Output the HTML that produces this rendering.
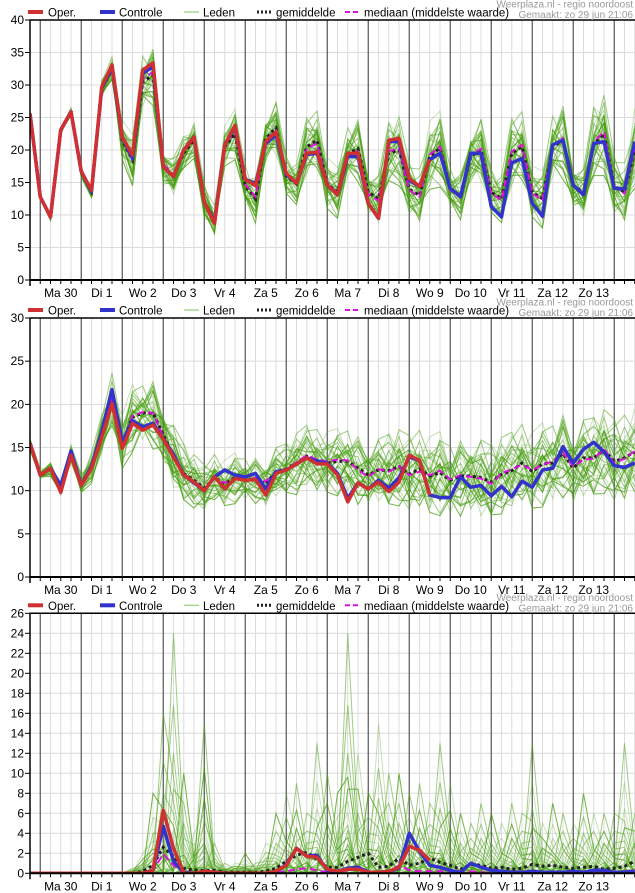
<!DOCTYPE html>
<html><head><meta charset="utf-8">
<style>
html,body{margin:0;padding:0;background:#fff;}
svg{display:block;font-family:"Liberation Sans",sans-serif;}
</style></head>
<body>
<svg id="chart" width="635" height="893" viewBox="0 0 635 893" xmlns="http://www.w3.org/2000/svg"></svg>
<script>
// ---------- data ----------
const dayLabels = ["Ma 30","Di 1","Wo 2","Do 3","Vr 4","Za 5","Zo 6","Ma 7","Di 8","Wo 9","Do 10","Vr 11","Za 12","Zo 13"];
const legendLabels = ["Oper.","Controle","Leden","gemiddelde","mediaan (middelste waarde)"];
const ticks1 = [0,5,10,15,20,25,30,35,40];
const ticks2 = [0,5,10,15,20,25,30];
const ticks3 = [0,2,4,6,8,10,12,14,16,18,20,22,24,26];

const oper1 = [25.6,12.8,9.7,23.1,25.9,16.7,13.8,29.7,33.1,22,19.2,32.3,33.4,17.4,15.9,20,22,12,8.7,20.8,23.8,15.5,14.5,21.3,22.8,16.4,14.9,19.5,19.7,14.6,13.1,19.5,19.5,11.8,9.5,21.5,21.8,15.6,14.4,18.5];
const ctrl1 = [25.6,12.8,9.7,23.1,25.9,16.7,13.6,29.5,32.8,22,18.7,31.8,32.8,17.4,15.9,20,22,12,8.9,20.8,23.6,15.5,14.8,21,22.3,16.2,14.9,19.3,19.5,14.6,13.1,19,19,11.8,9.5,21.3,21.3,15.3,14.4,18.5,19.5,14.1,12.8,19.5,19.5,11.3,9.7,18,18.7,11.8,9.8,20.8,21.5,14.6,13.1,21,21.3,14.1,14,21.3];
const mean1 = [25.5,12.8,9.7,23,25.8,16.5,13.6,29.4,32.5,21.5,18.5,30.5,31.5,17.5,16,19.5,21.5,12,9.2,20.5,22.5,14.5,12.5,21.8,23.4,16,14.8,20.5,21.5,14.8,13.5,19.5,20.2,13.5,12.5,19.5,20,14,13,19,20.3,14,13,19,20,13.5,12.5,19.5,20.5,13.5,12.5,20.5,21.5,14.5,13.5,21,22.5,14.5,13.5,20];
const median1 = [25.5,12.8,9.7,23,25.8,16.6,13.7,29.5,32.8,21.6,18.7,31,32,17.8,16.2,19.8,21.8,12,9.3,20.8,22.8,14.7,12.8,21.5,23,16.1,14.9,20.2,21,14.9,13.3,19.2,19.8,13.2,12.2,19.8,20.3,13.8,12.8,19.3,20.5,13.8,12.7,19.2,20.2,13.3,12.3,19.8,20.8,13.3,12.3,20.8,21.8,14.3,13.3,21.3,22.8,14.3,13.3,20.3];
const spread1 = [0.5,0.5,0.6,0.7,0.8,0.9,1,1.5,2,3.5,4,5,5,4,3.5,3,3,3,2.5,3.5,4,4,4,5,5,3.5,3.5,5,5,4.5,4,5,5.5,4.5,4.5,5.5,6,4.5,4.5,6,6,4,4,5.5,6,4,4,6,6,4.5,4.5,6,6.5,4.5,4.5,6.5,7,5,5,7];

const oper2 = [15.5,11.8,12.6,9.8,14.1,10.6,12.6,16.2,20.1,14.9,17.8,17,17.6,16,13.9,11.8,11,10,11.6,10.2,11.4,11.2,11.3,9.5,12,12.4,13.1,13.8,13.1,13.1,11.8,8.7,10.9,10.2,11,9.9,11,14.1,13.5,9.5];
const ctrl2 = [15.5,11.8,12.6,10.6,14.6,10.6,12.8,16.8,21.7,15.6,18.1,17.4,17.8,16,14.2,11.8,10.9,10,11.6,12.4,11.8,11.6,12,10.2,12.2,12.4,13.1,13.8,13.4,13.2,12,9.1,10.9,10.2,11.2,10.3,11.5,13.9,13.5,9.5,9.2,9.2,11.6,10.4,10.6,9.4,10.5,9.3,11.1,10.4,12.4,12.6,15.1,13.2,14.8,15.6,14.5,12.9,12.7,13.2];
const mean2 = [15.4,11.9,12.5,10.2,14.2,10.8,12.7,16.5,20.5,15.5,18.5,19,19,16.5,14,12,11.2,10.3,11.5,10.8,11.5,11.3,11.3,10.8,12.2,12.5,13.2,14,13.5,13.2,13.4,13.4,12.6,11.8,12.4,12.3,12.8,11.9,12.5,11.7,12.1,11.2,11.7,11.7,11.5,11,11.9,12.3,13.2,12.2,13.1,13.2,14.3,12.6,13.8,13.8,14.7,13.4,13.8,14.5];
const median2 = [15.4,11.9,12.5,10.1,14.2,10.8,12.7,16.6,20.6,15.3,18.7,19.1,19,16.3,13.9,11.9,11.1,10.2,11.4,10.9,11.4,11.2,11.5,11.1,12,12.4,13.3,14.1,13.6,13.4,13.6,13.5,12.4,11.6,12.5,12.2,12.8,11.8,12.2,11.8,12.3,11.3,11.8,11.6,11.4,10.8,12,12.5,13,12.4,13,13.4,14.4,12.8,13.6,13.7,14.8,13.2,13.7,14.6];
const spread2 = [0.7,0.8,0.9,1,1.3,1.3,2,2.5,3.5,3.5,4,4,4.5,4.5,4.5,4,3.5,3,3,3,3,3,3,3.5,3.5,3.5,4,4,4,4,4,4.5,4.5,4.5,4.5,5,5,5,5,5,5,5,5,5.5,5.5,5,5,5,5,5,5,5.5,5.5,5.5,5.5,5.5,5.5,5.5,5.5,5.5];

const oper3 = [0,0,0,0,0,0,0,0,0,0,0,0,0.3,6.3,2.5,0,0,0.2,0.1,0,0,0,0,0,0.2,0.8,2.5,1.7,1.6,0.4,0.2,0.4,0.4,0.1,0.1,0.2,0.6,2.7,2.3,1.3];
const ctrl3 = [0,0,0,0,0,0,0,0,0,0,0,0,0.3,4.7,1.2,0.1,0,0.1,0.1,0,0,0,0,0,0.1,0.9,2.5,1.7,1.8,0.3,0.2,0.5,0.6,0.1,0.1,0.2,0.5,4.0,2.2,0.8,0.6,0.3,0.1,1.0,0.6,0.3,0.2,0.1,0.1,0.2,0.1,0.1,0.1,0.2,0.1,0.3,0.3,0.1,0.1,0.2];
const mean3 = [0,0,0,0,0,0,0,0,0,0,0,0.2,0.8,2.6,1.7,0.5,0.3,0.3,0.3,0.1,0.1,0.1,0.1,0.2,0.5,1.2,1.8,2.1,1.4,0.6,0.6,1.2,1.6,2.0,0.6,0.7,1.5,0.8,1.0,1.5,1.1,0.8,0.4,0.9,0.8,0.5,0.6,0.4,0.5,0.9,0.7,0.8,0.6,0.5,0.6,0.7,0.4,0.5,0.7,1.2];
const median3 = [0,0,0,0,0,0,0,0,0,0,0,0,0.3,1.9,0.8,0,0,0,0,0,0,0,0,0,0.1,0.2,0.4,0.5,0.3,0.1,0.1,0.3,0.7,0.2,0.1,0.2,0.8,0.3,0.2,0.2,0.2,0.1,0,0.2,0.1,0,0.1,0,0.1,0.2,0.1,0.1,0,0.1,0.1,0.2,0.1,0.1,0.2,0.3];
const max3 = [0,0,0,0,0,0,0,0,0,0,0.5,2,8,16,24,10,4,15,3,1,1,2,1,3,6,8,9,6,13,10,8,24,12,8,15,10,10,8,9,7,13,9,6,5,7,6,5,7,6,13,5,7,6,5,8,6,6,6,13,6];

// ---------- drawing ----------
const NS = "http://www.w3.org/2000/svg";
const svg = document.getElementById("chart");
const X0 = 30, DX = 10.25, XR = 635, NM = 50;
function xs(i){ return X0 + DX*i; }
function mk(tag, attrs, parent){
  const e = document.createElementNS(NS, tag);
  for (const k in attrs) e.setAttribute(k, attrs[k]);
  (parent||svg).appendChild(e);
  return e;
}
const F = [-1,0.9,-0.6,0.3,-0.2,0.75,-0.85,0.1,-0.4,0.55,-0.95,0.65,-0.1,0.45,-0.7,0.2,-0.3,0.85,-0.5,0.0,0.95,-0.15,0.35,-0.8,0.6,-0.45,0.15,-0.65,0.5,-0.25];
const P = [1,0,0.7,0.05,0,0.5,0.02,0.4,0,0.3,0.12,0,0.25,0.08,0.2,0,0.15,0.04,0,0.1,0.06,0,0.03,0.01,0,0.35,0,0.18,0.02,0];

function panel(cfg){
  const g = mk("g", {}, svg);
  
  
  const top = cfg.top, bot = cfg.bot, vmax = cfg.vmax;
  const ys = v => bot - (bot-top)*v/vmax;
  const clipId = "clip"+cfg.name;
  const cp = mk("clipPath", {id:clipId}, g);
  mk("rect", {x:X0, y:top, width:XR-X0, height:bot-top}, cp);
  for (let i=1;i<60;i++){
    const isDay = (i-1)%4===0;
    if (!isDay) mk("line",{x1:xs(i),x2:xs(i),y1:top,y2:bot,stroke:"#dcdcdc","stroke-width":1},g);
  }
  cfg.ticks.forEach(t=>{
    if (t>0 && t<vmax) mk("line",{x1:X0,x2:XR,y1:ys(t),y2:ys(t),stroke:"#dcdcdc","stroke-width":1},g);
  });
  for (let k=0;k<15;k++){
    const x = xs(1+4*k);
    if (x<XR) {
      const l = mk("line",{x1:x,x2:x,y1:top,y2:bot,stroke:"#555","stroke-width":1.2},g);
      
      
    }
  }
  const dg = mk("g",{"clip-path":"url(#"+clipId+")"},g);
  function path(arr){ return arr.map((v,i)=>(i?"L":"M")+xs(i).toFixed(2)+","+ys(v).toFixed(2)).join(""); }
  for (let j=0;j<NM;j++){
    const vals = [];
    for (let i=0;i<60;i++){
      let v;
      if (cfg.precip){ v = cfg.max[i]*P[(j*11+i*7)%30]; }
      else { v = cfg.mean[i] + cfg.spread[i]*(0.55*F[j%30] + 0.45*F[(j*7+i*3)%30]); }
      vals.push(v);
    }
    const p = mk("path",{d:path(vals),fill:"none",stroke:(j%3===0?"rgba(60,150,0,0.45)":"rgba(80,165,30,0.32)"),"stroke-width":1},dg);
    
    
  }
  const pm = mk("path",{d:path(cfg.mean),fill:"none",stroke:"#222","stroke-width":3,"stroke-dasharray":"3,3"},dg);
  
  
  const pmed = mk("path",{d:path(cfg.median),fill:"none",stroke:"#e010e0","stroke-width":2,"stroke-dasharray":"7,4"},dg);
  
  
  const pc = mk("path",{d:path(cfg.ctrl),fill:"none",stroke:"#3333cc","stroke-width":3.5,"stroke-linejoin":"round"},dg);
  
  
  const po = mk("path",{d:path(cfg.oper),fill:"none",stroke:"#d03030","stroke-width":3.5,"stroke-linejoin":"round"},dg);
  
  
  mk("line",{x1:X0-0.5,x2:XR,y1:top,y2:top,stroke:"#000","stroke-width":1.5},g);
  const ya = mk("line",{x1:X0,x2:X0,y1:top,y2:bot+6,stroke:"#000","stroke-width":1.5},g);
  
  
  const xa = mk("line",{x1:X0,x2:XR,y1:bot,y2:bot,stroke:"#000","stroke-width":2},g);
  
  
  for (let i=1;i<60;i++) mk("line",{x1:xs(i),x2:xs(i),y1:bot,y2:bot+4,stroke:"#000","stroke-width":1},g);
  cfg.ticks.forEach(t=>{
    mk("line",{x1:X0-5,x2:X0,y1:ys(t),y2:ys(t),stroke:"#000","stroke-width":1},g);
    const tx = mk("text",{x:X0-6,y:ys(t)+4,"text-anchor":"end","font-size":12,fill:"#000"},g);
    tx.textContent = t;
    
    
  });
  dayLabels.forEach((lab,k)=>{
    const tx = mk("text",{x:xs(3+4*k),y:bot+17,"text-anchor":"middle","font-size":12,fill:"#000"},g);
    tx.textContent = lab;
    
    
  });
  const ly = top - 8;
  const lg = mk("g",{},g);
  
  
  const items = [
    {x:28, tx:48, s:{stroke:"#d03030","stroke-width":4}},
    {x:100, tx:119, s:{stroke:"#3333cc","stroke-width":4}},
    {x:184, tx:203, s:{stroke:"#a8d890","stroke-width":1.5}},
    {x:257, tx:276, s:{stroke:"#222","stroke-width":3,"stroke-dasharray":"2,2"}},
    {x:345, tx:364, s:{stroke:"#e010e0","stroke-width":2,"stroke-dasharray":"5,3"}}
  ];
  items.forEach((it,k)=>{
    const a = Object.assign({x1:it.x,x2:it.x+15,y1:ly,y2:ly},it.s);
    mk("line",a,lg);
    const t = mk("text",{x:it.tx,y:ly+4.5,"font-size":11.5,fill:"#000"},lg);
    t.textContent = legendLabels[k];
    
    
  });
  const c1 = mk("text",{x:633,y:top-12.5,"text-anchor":"end","font-size":10,fill:"#999"},g);
  c1.textContent = "Weerplaza.nl - regio noordoost";
  
  
  const c2 = mk("text",{x:633,y:top-2,"text-anchor":"end","font-size":10,fill:"#999"},g);
  c2.textContent = "Gemaakt: zo 29 jun 21:06";
  
  
}

panel({name:"temperature-panel",top:20,bot:280,vmax:40,ticks:ticks1,oper:oper1,ctrl:ctrl1,mean:mean1,median:median1,spread:spread1});
panel({name:"wind-panel",top:318,bot:577,vmax:30,ticks:ticks2,oper:oper2,ctrl:ctrl2,mean:mean2,median:median2,spread:spread2});
panel({name:"precipitation-panel",top:613.3,bot:873.3,vmax:26,ticks:ticks3,oper:oper3,ctrl:ctrl3,mean:mean3,median:median3,max:max3,precip:true});
</script>
</body></html>
